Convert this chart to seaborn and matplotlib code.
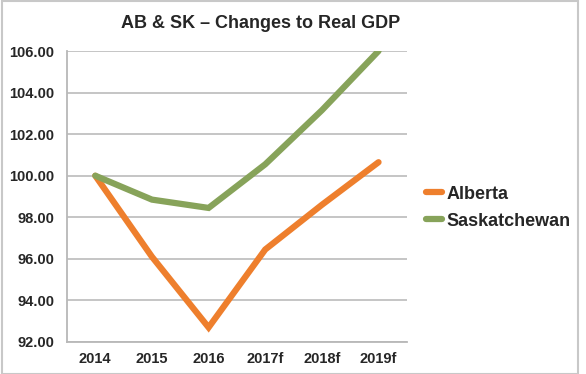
import pandas as pd
import seaborn as sns
import matplotlib.pyplot as plt
from matplotlib.patches import Rectangle

# data
years = ["2014", "2015", "2016", "2017f", "2018f", "2019f"]
alberta = [100.0, 96.1, 92.7, 96.45, 98.6, 100.65]
saskatchewan = [100.0, 98.85, 98.45, 100.55, 103.15, 106.0]

df = pd.DataFrame({
    "year": years * 2,
    "gdp": alberta + saskatchewan,
    "province": ["Alberta"] * len(years) + ["Saskatchewan"] * len(years),
})

sns.set_style("white")
plt.rcParams['font.family'] = ['Liberation Sans', 'DejaVu Sans']
plt.rcParams['font.weight'] = 'bold'

fig = plt.figure(figsize=(5.86, 3.74), dpi=100)
ax = fig.add_axes([0.1143, 0.0856, 0.58, 0.778])

sns.lineplot(data=df, x="year", y="gdp", hue="province", sort=False,
             palette={"Alberta": "#EE7F2D", "Saskatchewan": "#87A35A"},
             linewidth=4.5, ax=ax, solid_capstyle='round', solid_joinstyle='miter')

ax.set_xlim(-0.5, 5.5)
ax.set_ylim(92, 106)
ax.set_yticks(range(92, 107, 2))
ax.set_yticklabels([f"{v:.2f}" for v in range(92, 107, 2)])
ax.set_xlabel('')
ax.set_ylabel('')
ax.grid(axis='y', color='#C0C0C0', linewidth=1.3)
ax.set_axisbelow(True)

for s in ['top', 'right']:
    ax.spines[s].set_visible(False)
for s in ['left', 'bottom']:
    ax.spines[s].set_color('#B8B8B8')
    ax.spines[s].set_linewidth(1.3)

# category boundary ticks on the x axis
ax.set_xticks([i - 0.5 for i in range(len(years) + 1)], minor=True)
ax.tick_params(axis='x', which='minor', length=4, color='#B8B8B8', width=1.3)
ax.tick_params(axis='x', which='major', length=0, pad=7, labelsize=10.5)
ax.tick_params(axis='y', length=4, color='#B8B8B8', width=1.3, pad=5, labelsize=10.5)
for t in ax.get_xticklabels() + ax.get_yticklabels():
    t.set_fontweight('bold')

fig.text(0.444, 0.937, "AB & SK – Changes to Real GDP", ha='center', va='center',
         fontsize=13, fontweight='bold')

leg = ax.legend(loc='center left', bbox_to_anchor=(1.056, 0.462), frameon=False,
                borderpad=0, borderaxespad=0,
                handlelength=0.9, handletextpad=0.25, labelspacing=0.55,
                prop={'size': 13, 'weight': 'bold'})
for line in leg.get_lines():
    line.set_linewidth(4.5)
    line.set_solid_capstyle('round')

fig.patches.append(Rectangle((0.004, 0.0), 0.982, 0.997, transform=fig.transFigure,
                             fill=False, edgecolor='#C8C8C8', linewidth=1.5))

plt.savefig('out.png', dpi=100)
